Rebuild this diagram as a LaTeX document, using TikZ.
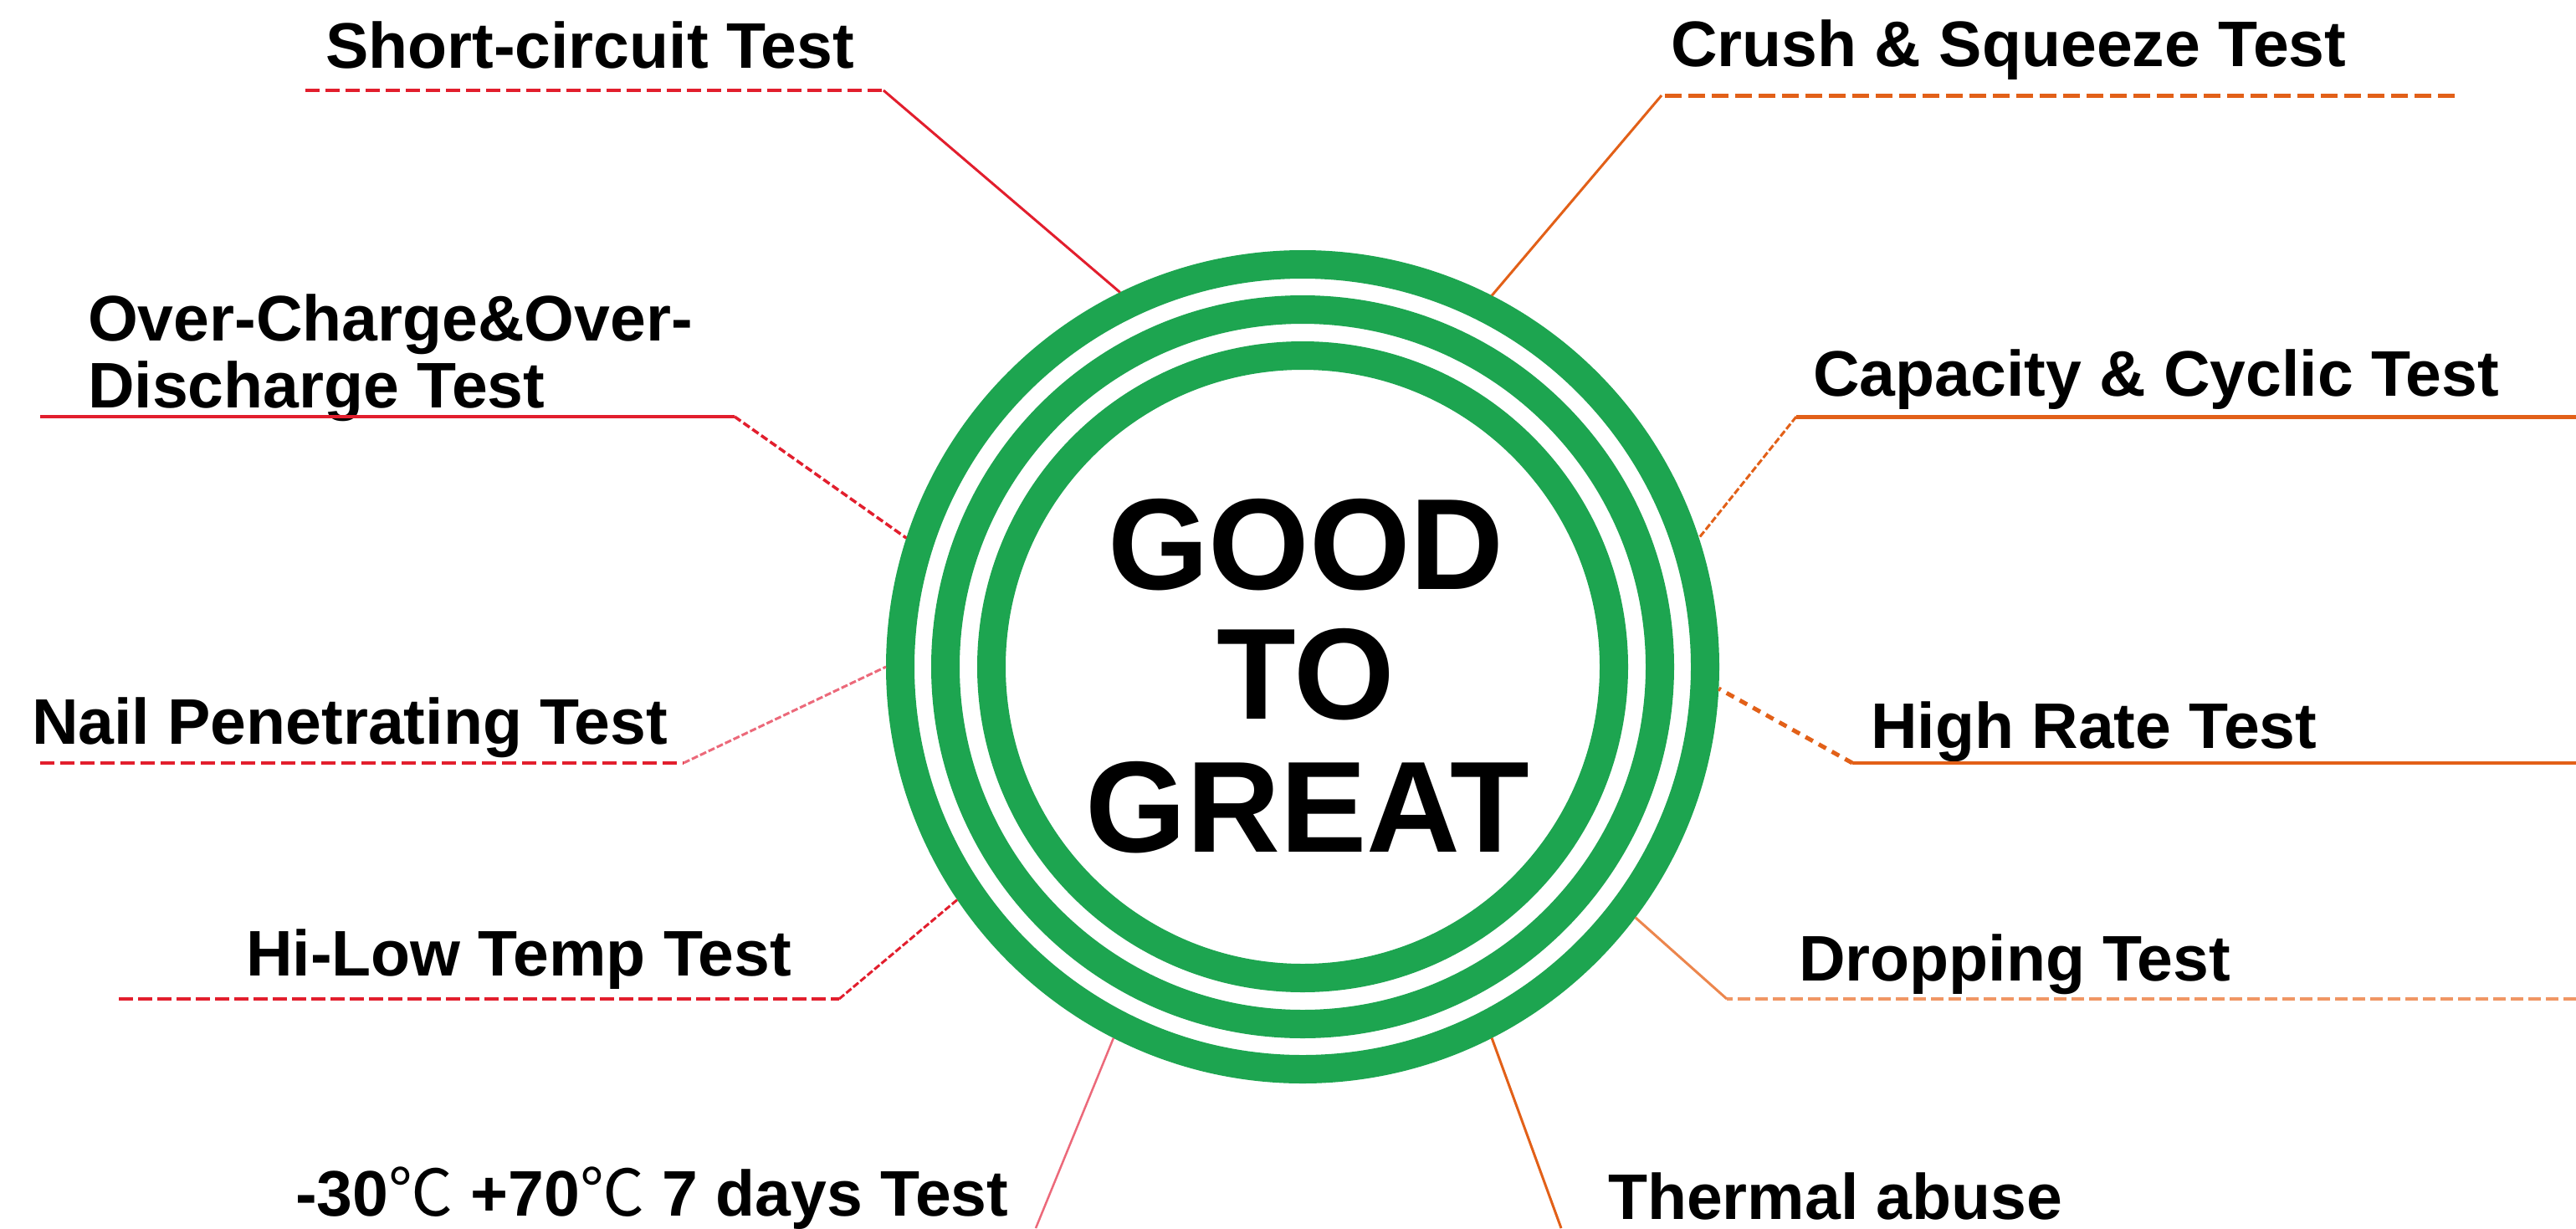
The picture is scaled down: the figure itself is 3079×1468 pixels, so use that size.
\documentclass[tikz,border=0pt]{standalone}
\usepackage{fontspec}
\setmainfont{Liberation Sans}
\newfontfamily\cjk{Noto Sans CJK SC}
\definecolor{ringgreen}{RGB}{29,165,80}
\definecolor{lnred}{RGB}{226,30,45}
\definecolor{lnpink}{RGB}{236,105,122}
\definecolor{lnorange}{RGB}{226,96,24}
\definecolor{lnlightorange}{RGB}{240,150,100}
\begin{document}
\begin{tikzpicture}[x=1pt,y=-1pt,
  ringline/.style={draw=ringgreen,line width=34pt},
  lbl/.style={anchor=base west,inner sep=0pt,outer sep=0pt,align=left,
    font=\fontsize{77}{80}\selectfont\bfseries},
  core/.style={anchor=base,inner sep=0pt,outer sep=0pt,
    font=\fontsize{155}{157}\selectfont\bfseries},
  hdash/.style={line width=4pt,dash pattern=on 17pt off 7pt},
  hsolid/.style={line width=4.5pt},
  dsolid/.style={line width=3pt},
  dsmall/.style={line width=3pt,dash pattern=on 8pt off 3pt},
]
\fill[white] (0,0) rectangle (3079,1468);
\useasboundingbox (0,0) rectangle (3079,1468);

% central rings
\node[circle,minimum size=996pt,inner sep=0pt,outer sep=0pt] (ring) at (1557,797) {};
\draw[ringline] (ring.center) circle[radius=481pt];
\draw[ringline] (ring.center) circle[radius=427pt];
\draw[ringline] (ring.center) circle[radius=372pt];

\node[core] (good)  at (1561,704)  {GOOD};
\node[core] (to)    at (1561,859)  {TO};
\node[core] (great) at (1563,1018) {GREAT};

% labels
\node[lbl] (shortc) at (389,81) {Short-circuit Test};
\node[lbl] (overc) at (105,487) {Over-Charge\&Over-\\Discharge Test};
\node[lbl] (nail) at (38,889) {Nail Penetrating Test};
\node[lbl] (hilow) at (294,1166) {Hi-Low Temp Test};
\node[lbl] (days) at (353,1453) {-30{\cjk\mdseries ℃} +70{\cjk\mdseries ℃} 7 days Test};
\node[lbl] (crush) at (1997,79) {Crush \& Squeeze Test};
\node[lbl] (capac) at (2167,473) {Capacity \& Cyclic Test};
\node[lbl] (highr) at (2236,894) {High Rate Test};
\node[lbl] (dropp) at (2150,1172) {Dropping Test};
\node[lbl] (therm) at (1922,1457) {Thermal abuse};

% connector coordinates
\coordinate (sc-a) at (365,108);   \coordinate (sc-b) at (1056,108);
\coordinate (oc-a) at (48,498);    \coordinate (oc-b) at (878,498);
\coordinate (na-a) at (48,912);    \coordinate (na-b) at (817,912);
\coordinate (hl-a) at (142,1194);  \coordinate (hl-b) at (1003,1194);
\coordinate (dy-b) at (1238,1468);
\coordinate (cr-a) at (2934,114);  \coordinate (cr-b) at (1986,114);
\coordinate (ca-a) at (3079,498);  \coordinate (ca-b) at (2147,498);
\coordinate (hr-a) at (3079,912);  \coordinate (hr-b) at (2214,912);
\coordinate (dr-a) at (3079,1194); \coordinate (dr-b) at (2064,1194);
\coordinate (th-b) at (1866,1468);

% left (red) connectors
\draw[lnred,hdash] (sc-a) -- (sc-b);
\draw[lnred,dsolid] (sc-b) -- (ring.116.1);

\draw[lnred,hsolid] (oc-a) -- (oc-b);
\draw[lnred,line width=3.5pt,dash pattern=on 9pt off 4pt] (oc-b) -- (ring.162.2);

\draw[lnred,hdash] (na-a) -- (na-b);
\draw[lnpink,dsmall] (na-b) -- (ring.180.6);

\draw[lnred,line width=4pt,dash pattern=on 17pt off 6pt] (hl-a) -- (hl-b);
\draw[lnred,dsmall] (hl-b) -- (ring.214.8);

\draw[lnpink,line width=2.5pt] (ring.243.9) -- (dy-b);

% right (orange) connectors
\draw[lnorange,line width=5pt,dash pattern=on 20pt off 8pt] (cr-a) -- (cr-b);
\draw[lnorange,dsolid] (cr-b) -- (ring.63.1);

\draw[lnorange,line width=5pt] (ca-a) -- (ca-b);
\draw[lnorange,dsmall] (ca-b) -- (ring.18.3);

\draw[lnorange,hsolid] (hr-a) -- (hr-b);
\draw[lnorange,line width=5pt,dash pattern=on 10pt off 8pt] (hr-b) -- (ring.357.2);

\draw[lnlightorange,line width=3.5pt,dash pattern=on 15pt off 6pt] (dr-a) -- (dr-b);
\draw[lnlightorange!70!lnorange,dsolid] (dr-b) -- (ring.323.7);

\draw[lnorange,dsolid] (ring.297.7) -- (th-b);
\end{tikzpicture}
\end{document}
